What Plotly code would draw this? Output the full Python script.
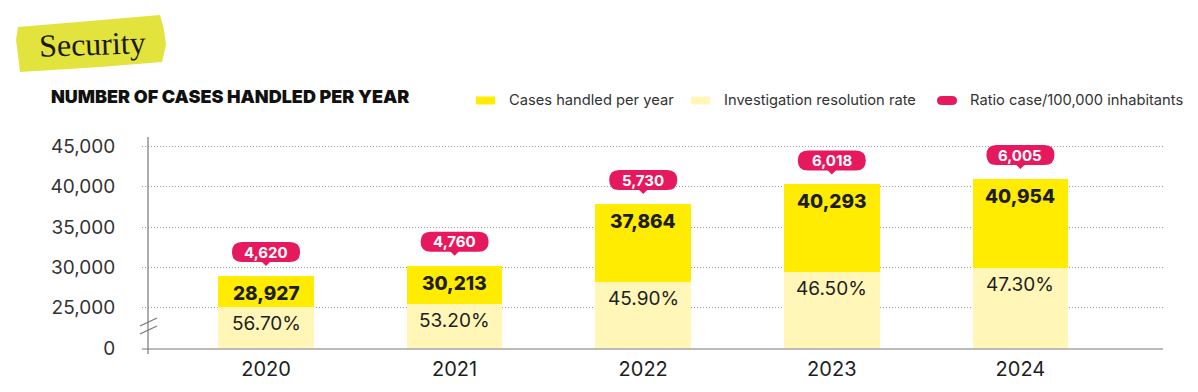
import plotly.graph_objects as go

# ---------------- data ----------------
years = ["2020", "2021", "2022", "2023", "2024"]
cases = [28927, 30213, 37864, 40293, 40954]
resolution_pct = [56.70, 53.20, 45.90, 46.50, 47.30]
ratio_per_100k = [4620, 4760, 5730, 6018, 6005]
y_tick_values = [0, 25000, 30000, 35000, 40000, 45000]
legend_labels = ["Cases handled per year", "Investigation resolution rate",
                 "Ratio case/100,000 inhabitants"]
title_text = "Security"
heading_text = "NUMBER OF CASES HANDLED PER YEAR"

# broken axis: the 0..25,000 stretch is shown as one 5,000 step
AXIS_BREAK = 20000


def to_display(v):
    return 0 if v <= 0 else v - AXIS_BREAK


YELLOW = "#FFEC00"
LIGHT = "#FFF6B8"
PINK = "#E6195E"
TXT = "#1E1E1E"
FONT = "Inter, Roboto, sans-serif"

OFF = 8  # page body margin
W, H = 1198 - OFF, 392 - OFF
ML, MR, MT, MB = 142 - OFF, 35, 137 - OFF, 44


def PX(x):
    return (x - OFF - ML) / (W - ML - MR)


def PY(y):
    return (H + OFF - MB - y) / (H - MT - MB)


xs = list(range(len(years)))
disp_total = [to_display(v) for v in cases]
disp_light = [t * p / 100 for t, p in zip(disp_total, resolution_pct)]
disp_yellow = [t - l for t, l in zip(disp_total, disp_light)]

fig = go.Figure()
fig.add_trace(go.Bar(x=xs, y=disp_light, marker=dict(color=LIGHT, line=dict(width=0)),
                     width=0.506, name=legend_labels[1], showlegend=False, hoverinfo="skip"))
fig.add_trace(go.Bar(x=xs, y=disp_yellow, marker=dict(color=YELLOW, line=dict(width=0)),
                     width=0.506, name=legend_labels[0], showlegend=False, hoverinfo="skip"))

shapes = []
annotations = []

for i in xs:
    annotations.append(dict(x=i, y=disp_total[i], xref="x", yref="y", yanchor="top", yshift=-4,
                            text=f"{cases[i]:,}", showarrow=False,
                            font=dict(family=FONT, size=19, color=TXT, weight=800)))
    annotations.append(dict(x=i, y=disp_light[i], xref="x", yref="y", yanchor="top", yshift=-3,
                            text=f"{resolution_pct[i]:.2f}%", showarrow=False,
                            font=dict(family=FONT, size=19, color=TXT)))
    pill = ("M -24,14 L 24,14 Q 34,14 34,24 Q 34,34 24,34 L -24,34 "
            "Q -34,34 -34,24 Q -34,14 -24,14 Z")
    shapes.append(dict(type="path", path=pill, xref="x", yref="y", xsizemode="pixel",
                       ysizemode="pixel", xanchor=i, yanchor=disp_total[i],
                       fillcolor=PINK, line=dict(width=0), layer="above"))
    shapes.append(dict(type="path", path="M -5,15 L 0,10 L 5,15 Z", xref="x", yref="y",
                       xsizemode="pixel", ysizemode="pixel", xanchor=i,
                       yanchor=disp_total[i], fillcolor=PINK, line=dict(width=0), layer="above"))
    annotations.append(dict(x=i, y=disp_total[i], xref="x", yref="y", yanchor="middle",
                            yshift=24, text=f"{ratio_per_100k[i]:,}", showarrow=False,
                            font=dict(family=FONT, size=15, color="white", weight=700)))

# left axis line and break marks
shapes.append(dict(type="line", xref="paper", yref="paper", x0=PX(148), x1=PX(148),
                   y0=PY(137), y1=PY(354), line=dict(color="#777777", width=1.2)))
for dy in (0, 8):
    shapes.append(dict(type="line", xref="paper", yref="paper", x0=PX(140), x1=PX(157),
                       y0=PY(326 + dy), y1=PY(318 + dy), line=dict(color="#777777", width=1.2)))

# title tape
tape_pts = [(18, 27), (90, 21), (160, 15), (164, 30), (166, 45), (162, 62), (100, 67),
            (20, 72), (18, 55), (16, 40)]
tape_path = "M " + " L ".join(f"{PX(x):.5f},{PY(y):.5f}" for x, y in tape_pts) + " Z"
shapes.append(dict(type="path", path=tape_path, xref="paper", yref="paper",
                   fillcolor="#E2E33C", line=dict(width=0)))
annotations.append(dict(x=PX(92), y=PY(44), xref="paper", yref="paper", xanchor="center",
                        yanchor="middle", text=title_text, showarrow=False, textangle=-2,
                        font=dict(family="Liberation Serif, serif", size=32, color="#1a1a1a")))

# heading
annotations.append(dict(x=PX(49), y=PY(96), xref="paper", yref="paper", xanchor="left",
                        yanchor="middle", text=heading_text, showarrow=False,
                        font=dict(family=FONT, size=18, color="#111111", weight=900)))

# legend
leg_marker_x = [476, 691, 937]
leg_text_x = [506.5, 721.5, 967.5]
leg_colors = [YELLOW, LIGHT, PINK]
for k in range(3):
    x0 = leg_marker_x[k]
    if k < 2:
        shapes.append(dict(type="rect", xref="paper", yref="paper", x0=PX(x0), x1=PX(x0 + 19),
                           y0=PY(104.5), y1=PY(96.5), fillcolor=leg_colors[k],
                           line=dict(width=0)))
    else:
        r = 5
        pts = (f"M {PX(x0 + r)},{PY(96)} L {PX(x0 + 20 - r)},{PY(96)} "
               f"Q {PX(x0 + 20)},{PY(96)} {PX(x0 + 20)},{PY(100.5)} "
               f"Q {PX(x0 + 20)},{PY(105)} {PX(x0 + 20 - r)},{PY(105)} "
               f"L {PX(x0 + r)},{PY(105)} Q {PX(x0)},{PY(105)} {PX(x0)},{PY(100.5)} "
               f"Q {PX(x0)},{PY(96)} {PX(x0 + r)},{PY(96)} Z")
        shapes.append(dict(type="path", path=pts, xref="paper", yref="paper",
                           fillcolor=leg_colors[k], line=dict(width=0)))
    annotations.append(dict(x=PX(leg_text_x[k]), y=PY(100.5), xref="paper", yref="paper",
                            xanchor="left", yanchor="middle", text=legend_labels[k],
                            showarrow=False, font=dict(family=FONT, size=14.7, color="#333333")))

fig.update_layout(
    width=W, height=H, autosize=False,
    margin=dict(l=ML, r=MR, t=MT, b=MB, pad=0, autoexpand=False),
    paper_bgcolor="white", plot_bgcolor="white",
    barmode="stack", bargap=0,
    showlegend=False,
    shapes=shapes, annotations=annotations,
    xaxis=dict(
        range=[-0.6575, 4.756], tickmode="array", tickvals=xs, ticktext=years,
        showgrid=False, zeroline=False, showline=True, linecolor="#BBBBBB", linewidth=2,
        ticks="outside", ticklen=2, tickcolor="rgba(0,0,0,0)", automargin=False,
        tickfont=dict(family=FONT, size=20, color=TXT), fixedrange=True,
    ),
    yaxis=dict(
        range=[0, 26180], tickmode="array",
        tickvals=[to_display(v) for v in y_tick_values],
        ticktext=[f"{v:,}" for v in y_tick_values],
        showgrid=True, gridcolor="#999999", gridwidth=1, griddash="1px,2px",
        zeroline=False, showline=False, automargin=False,
        ticks="outside", ticklen=22, tickcolor="rgba(0,0,0,0)",
        tickfont=dict(family=FONT, size=19, color="#333333"), fixedrange=True,
    ),
)

fig.write_html("out.html")
